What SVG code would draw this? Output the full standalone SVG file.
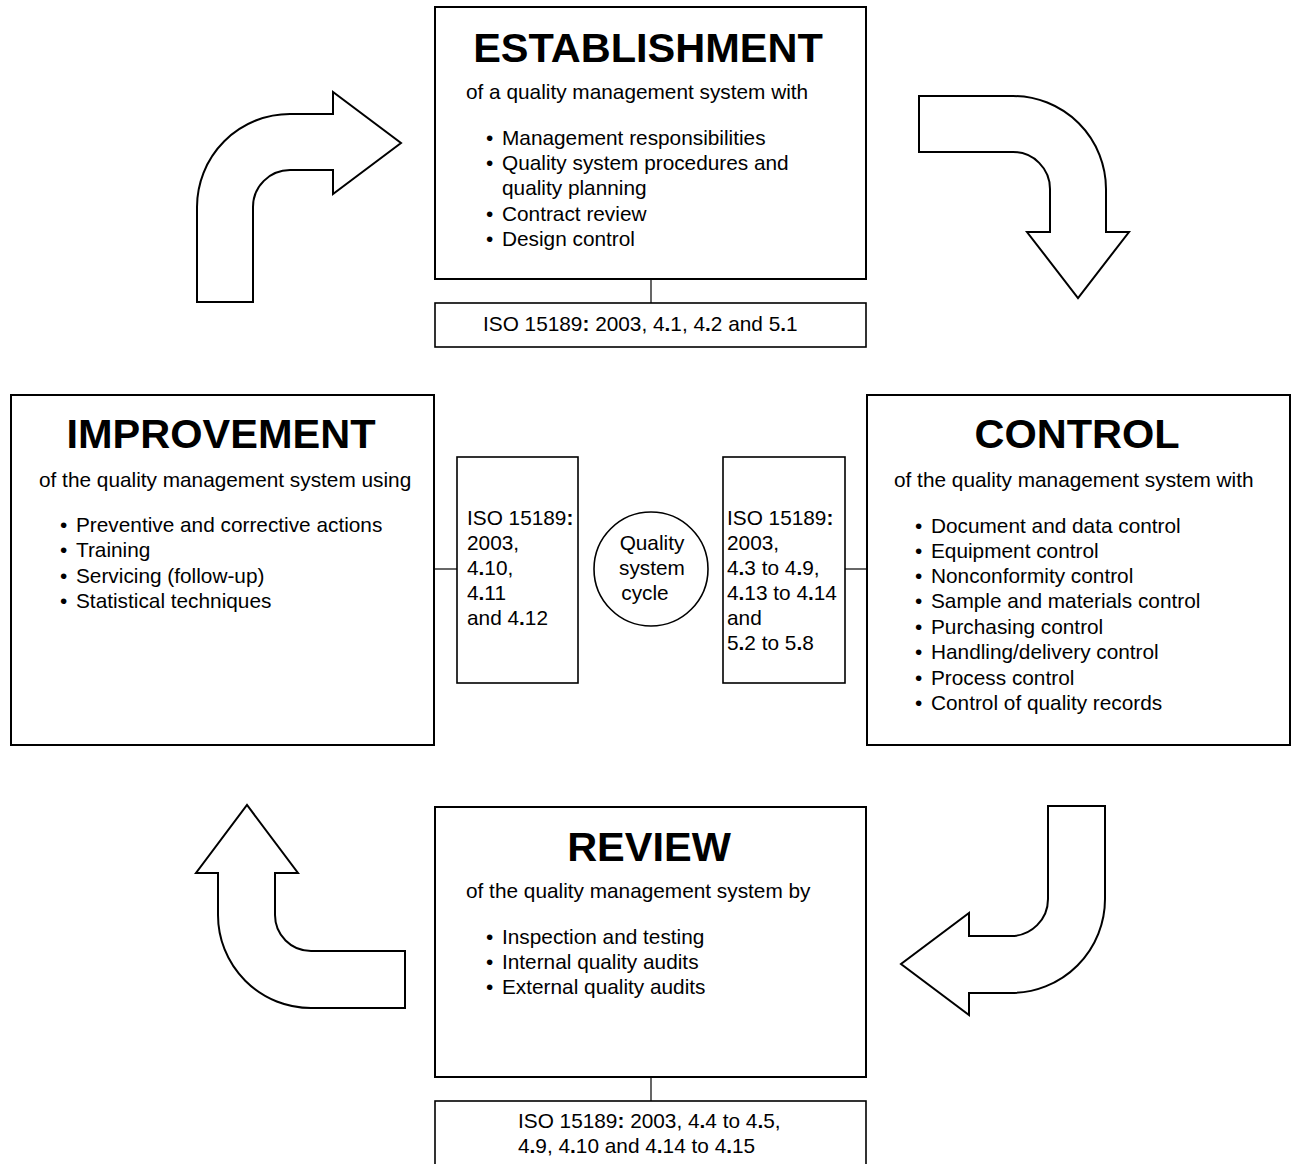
<svg xmlns="http://www.w3.org/2000/svg" width="1296" height="1164" viewBox="0 0 1296 1164">
<style>
.box{fill:#fff;stroke:#000;stroke-width:2}
.sbox{fill:#fff;stroke:#000;stroke-width:1.6}
.arrow{fill:#fff;stroke:#000;stroke-width:2;stroke-linejoin:miter}
.conn{stroke:#000;stroke-width:1.2;fill:none}
text{font-family:"Liberation Sans",Arial,sans-serif;fill:#000}
.t{font-size:41.5px;font-weight:bold;text-anchor:middle}
.s{font-size:20.8px}
.c{text-anchor:middle}
.b{font-weight:bold}
</style>
<rect width="1296" height="1164" fill="#fff"/>

<g id="connectors">
<line class="conn" x1="651" y1="279" x2="651" y2="303"/>
<line class="conn" x1="651" y1="1077" x2="651" y2="1101"/>
<line class="conn" x1="434" y1="569" x2="457" y2="569"/>
<line class="conn" x1="845" y1="569" x2="867" y2="569"/>
<path class="arrow" d="M197,302 L197,207 A93,93 0 0 1 290,114 L333,114 L333,92 L401,143 L333,194 L333,170 L290,170 A37,37 0 0 0 253,207 L253,302 Z"/>
<path class="arrow" d="M919,96 L1013,96 A93,93 0 0 1 1106,189 L1106,232 L1129,232 L1078,298 L1027,232 L1050,232 L1050,189 A37,37 0 0 0 1013,152 L919,152 Z"/>
<path class="arrow" d="M1048,806 L1105,806 L1105,899 A94,94 0 0 1 1011,993 L969,993 L969,1015 L901,964 L969,913 L969,936 L1011,936 A37,37 0 0 0 1048,899 Z"/>
<path class="arrow" d="M218,873 L196,873 L247,805 L298,873 L275,873 L275,915 A36,36 0 0 0 311,951 L405,951 L405,1008 L311,1008 A93,93 0 0 1 218,915 Z"/>
</g>

<g id="establishment">
<rect class="box" x="435" y="7" width="431" height="272"/>
<text class="t" x="648" y="62">ESTABLISHMENT</text>
<text class="s" x="466" y="99">of a quality management system with</text>
<text class="s"><tspan x="486" y="145">•</tspan><tspan x="502" y="145">Management responsibilities</tspan></text>
<text class="s"><tspan x="486" y="170">•</tspan><tspan x="502" y="170">Quality system procedures and</tspan></text>
<text class="s" x="502" y="195">quality planning</text>
<text class="s"><tspan x="486" y="221">•</tspan><tspan x="502" y="221">Contract review</tspan></text>
<text class="s"><tspan x="486" y="246">•</tspan><tspan x="502" y="246">Design control</tspan></text>
</g>

<g id="iso-establishment">
<rect class="sbox" x="435" y="303" width="431" height="44"/>
<text class="s" x="483" y="331">ISO 15189<tspan class="b">:</tspan> 2003, 4<tspan class="b">.</tspan>1, 4<tspan class="b">.</tspan>2 and 5<tspan class="b">.</tspan>1</text>
</g>

<g id="improvement">
<rect class="box" x="11" y="395" width="423" height="350"/>
<text class="t" x="221" y="448">IMPROVEMENT</text>
<text class="s" x="39" y="487">of the quality management system using</text>
<text class="s"><tspan x="60" y="532">•</tspan><tspan x="76" y="532">Preventive and corrective actions</tspan></text>
<text class="s"><tspan x="60" y="557">•</tspan><tspan x="76" y="557">Training</tspan></text>
<text class="s"><tspan x="60" y="583">•</tspan><tspan x="76" y="583">Servicing (follow-up)</tspan></text>
<text class="s"><tspan x="60" y="608">•</tspan><tspan x="76" y="608">Statistical techniques</tspan></text>
</g>

<g id="iso-improvement">
<rect class="sbox" x="457" y="457" width="121" height="226"/>
<text class="s" x="467" y="525">ISO 15189<tspan class="b">:</tspan></text>
<text class="s" x="467" y="550">2003,</text>
<text class="s" x="467" y="575">4<tspan class="b">.</tspan>10,</text>
<text class="s" x="467" y="600">4<tspan class="b">.</tspan>11</text>
<text class="s" x="467" y="625">and 4<tspan class="b">.</tspan>12</text>
</g>

<g id="cycle">
<circle cx="651" cy="569" r="57" fill="#fff" stroke="#000" stroke-width="1.6"/>
<text class="s c" x="652" y="550">Quality</text>
<text class="s c" x="652" y="575">system</text>
<text class="s c" x="645" y="600">cycle</text>
</g>

<g id="iso-control">
<rect class="sbox" x="723" y="457" width="122" height="226"/>
<text class="s" x="727" y="525">ISO 15189<tspan class="b">:</tspan></text>
<text class="s" x="727" y="550">2003,</text>
<text class="s" x="727" y="575">4<tspan class="b">.</tspan>3 to 4<tspan class="b">.</tspan>9,</text>
<text class="s" x="727" y="600">4<tspan class="b">.</tspan>13 to 4<tspan class="b">.</tspan>14</text>
<text class="s" x="727" y="625">and</text>
<text class="s" x="727" y="650">5<tspan class="b">.</tspan>2 to 5<tspan class="b">.</tspan>8</text>
</g>

<g id="control">
<rect class="box" x="867" y="395" width="423" height="350"/>
<text class="t" x="1077" y="448">CONTROL</text>
<text class="s" x="894" y="487">of the quality management system with</text>
<text class="s"><tspan x="915" y="533">•</tspan><tspan x="931" y="533">Document and data control</tspan></text>
<text class="s"><tspan x="915" y="558">•</tspan><tspan x="931" y="558">Equipment control</tspan></text>
<text class="s"><tspan x="915" y="583">•</tspan><tspan x="931" y="583">Nonconformity control</tspan></text>
<text class="s"><tspan x="915" y="608">•</tspan><tspan x="931" y="608">Sample and materials control</tspan></text>
<text class="s"><tspan x="915" y="634">•</tspan><tspan x="931" y="634">Purchasing control</tspan></text>
<text class="s"><tspan x="915" y="659">•</tspan><tspan x="931" y="659">Handling/delivery control</tspan></text>
<text class="s"><tspan x="915" y="685">•</tspan><tspan x="931" y="685">Process control</tspan></text>
<text class="s"><tspan x="915" y="710">•</tspan><tspan x="931" y="710">Control of quality records</tspan></text>
</g>

<g id="review">
<rect class="box" x="435" y="807" width="431" height="270"/>
<text class="t" x="649" y="861">REVIEW</text>
<text class="s" x="466" y="898">of the quality management system by</text>
<text class="s"><tspan x="486" y="944">•</tspan><tspan x="502" y="944">Inspection and testing</tspan></text>
<text class="s"><tspan x="486" y="969">•</tspan><tspan x="502" y="969">Internal quality audits</tspan></text>
<text class="s"><tspan x="486" y="994">•</tspan><tspan x="502" y="994">External quality audits</tspan></text>
</g>

<g id="iso-review">
<rect class="sbox" x="435" y="1101" width="431" height="70"/>
<text class="s" x="518" y="1128">ISO 15189<tspan class="b">:</tspan> 2003, 4<tspan class="b">.</tspan>4 to 4<tspan class="b">.</tspan>5,</text>
<text class="s" x="518" y="1153">4<tspan class="b">.</tspan>9, 4<tspan class="b">.</tspan>10 and 4<tspan class="b">.</tspan>14 to 4<tspan class="b">.</tspan>15</text>
</g>
</svg>
